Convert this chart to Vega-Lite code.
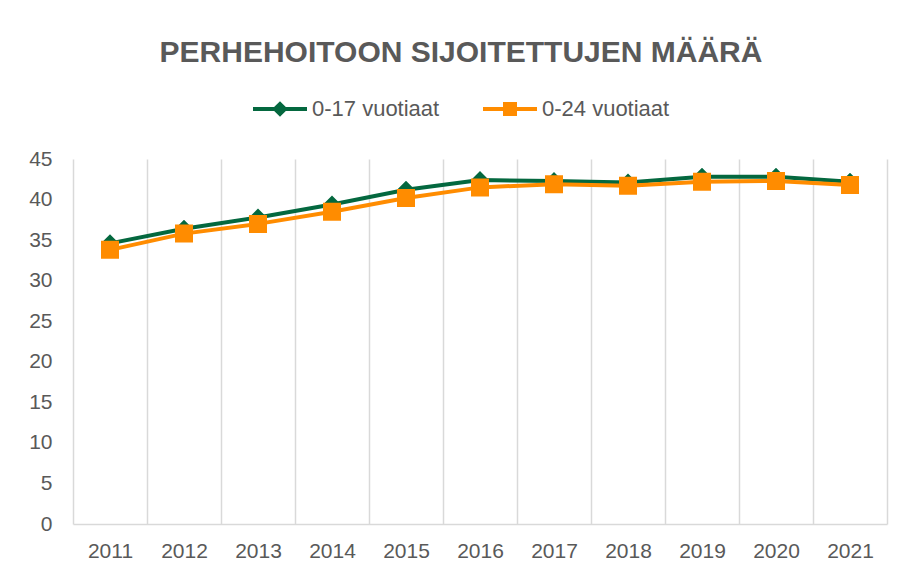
{
  "$schema": "https://vega.github.io/schema/vega-lite/v6.json",
  "width": 814,
  "height": 365,
  "autosize": {"type": "none"},
  "padding": {"left": 73, "top": 159, "right": 16, "bottom": 46},
  "background": "white",
  "title": {
    "text": "PERHEHOITOON SIJOITETTUJEN MÄÄRÄ",
    "font": "Liberation Sans",
    "fontSize": 30,
    "fontWeight": "bold",
    "color": "#595959",
    "anchor": "middle",
    "dx": -19,
    "baseline": "alphabetic",
    "offset": 6
  },
  "data": {
    "values": [
      {"year": "2011", "series": "0-17 vuotiaat", "value": 34.6},
      {"year": "2012", "series": "0-17 vuotiaat", "value": 36.4},
      {"year": "2013", "series": "0-17 vuotiaat", "value": 37.8},
      {"year": "2014", "series": "0-17 vuotiaat", "value": 39.4},
      {"year": "2015", "series": "0-17 vuotiaat", "value": 41.2},
      {"year": "2016", "series": "0-17 vuotiaat", "value": 42.4},
      {"year": "2017", "series": "0-17 vuotiaat", "value": 42.3},
      {"year": "2018", "series": "0-17 vuotiaat", "value": 42.1},
      {"year": "2019", "series": "0-17 vuotiaat", "value": 42.8},
      {"year": "2020", "series": "0-17 vuotiaat", "value": 42.8},
      {"year": "2021", "series": "0-17 vuotiaat", "value": 42.2},
      {"year": "2011", "series": "0-24 vuotiaat", "value": 33.8},
      {"year": "2012", "series": "0-24 vuotiaat", "value": 35.8},
      {"year": "2013", "series": "0-24 vuotiaat", "value": 37.0},
      {"year": "2014", "series": "0-24 vuotiaat", "value": 38.5},
      {"year": "2015", "series": "0-24 vuotiaat", "value": 40.2},
      {"year": "2016", "series": "0-24 vuotiaat", "value": 41.5},
      {"year": "2017", "series": "0-24 vuotiaat", "value": 41.9},
      {"year": "2018", "series": "0-24 vuotiaat", "value": 41.7},
      {"year": "2019", "series": "0-24 vuotiaat", "value": 42.2},
      {"year": "2020", "series": "0-24 vuotiaat", "value": 42.3},
      {"year": "2021", "series": "0-24 vuotiaat", "value": 41.8}
    ]
  },
  "encoding": {
    "x": {
      "field": "year",
      "type": "ordinal",
      "bandPosition": 0.5,
      "scale": {"type": "band", "paddingInner": 0, "paddingOuter": 0},
      "axis": {
        "title": null,
        "labelAngle": 0,
        "labelFont": "Liberation Sans",
        "labelFontSize": 21,
        "labelColor": "#595959",
        "labelPadding": 16,
        "ticks": false,
        "tickBand": "extent",
        "grid": true,
        "gridColor": "#d9d9d9",
        "gridWidth": 1.5,
        "domain": true,
        "domainColor": "#d9d9d9",
        "domainWidth": 1.5
      }
    },
    "y": {
      "field": "value",
      "type": "quantitative",
      "scale": {"domain": [0, 45], "nice": false},
      "axis": {
        "title": null,
        "values": [0, 5, 10, 15, 20, 25, 30, 35, 40, 45],
        "grid": false,
        "domain": false,
        "ticks": false,
        "labelFont": "Liberation Sans",
        "labelFontSize": 21,
        "labelColor": "#595959",
        "labelPadding": 21
      }
    },
    "color": {
      "field": "series",
      "type": "nominal",
      "scale": {"domain": ["0-17 vuotiaat", "0-24 vuotiaat"], "range": ["#04683f", "#ff8c00"]},
      "legend": {
        "orient": "none",
        "legendX": 196,
        "legendY": -61,
        "direction": "horizontal",
        "title": null,
        "padding": 0,
        "labelFont": "Liberation Sans",
        "labelFontSize": 22,
        "labelColor": "#595959",
        "symbolSize": 100,
        "symbolStrokeWidth": 4,
        "labelOffset": 21,
        "columnPadding": 35,
        "encode": {
          "symbols": {
            "update": {
              "fill": {"signal": "scale('color', datum.value)"},
              "stroke": {"signal": "scale('color', datum.value)"},
              "strokeWidth": {"value": 4},
              "opacity": {"value": 1}
            }
          }
        }
      }
    }
  },
  "layer": [
    {
      "mark": {"type": "line", "strokeWidth": 4}
    },
    {
      "mark": {"type": "point", "filled": true, "opacity": 1, "size": 324, "strokeWidth": 0},
      "encoding": {
        "shape": {
          "field": "series",
          "type": "nominal",
          "scale": {
            "domain": ["0-17 vuotiaat", "0-24 vuotiaat"],
            "range": ["M-5.4,0L5.4,0M-1,0L0,-1L1,0L0,1Z", "M-5.4,0L5.4,0M-1,-1L1,-1L1,1L-1,1Z"]
          },
          "legend": null
        }
      }
    }
  ],
  "config": {
    "view": {"stroke": null}
  }
}
